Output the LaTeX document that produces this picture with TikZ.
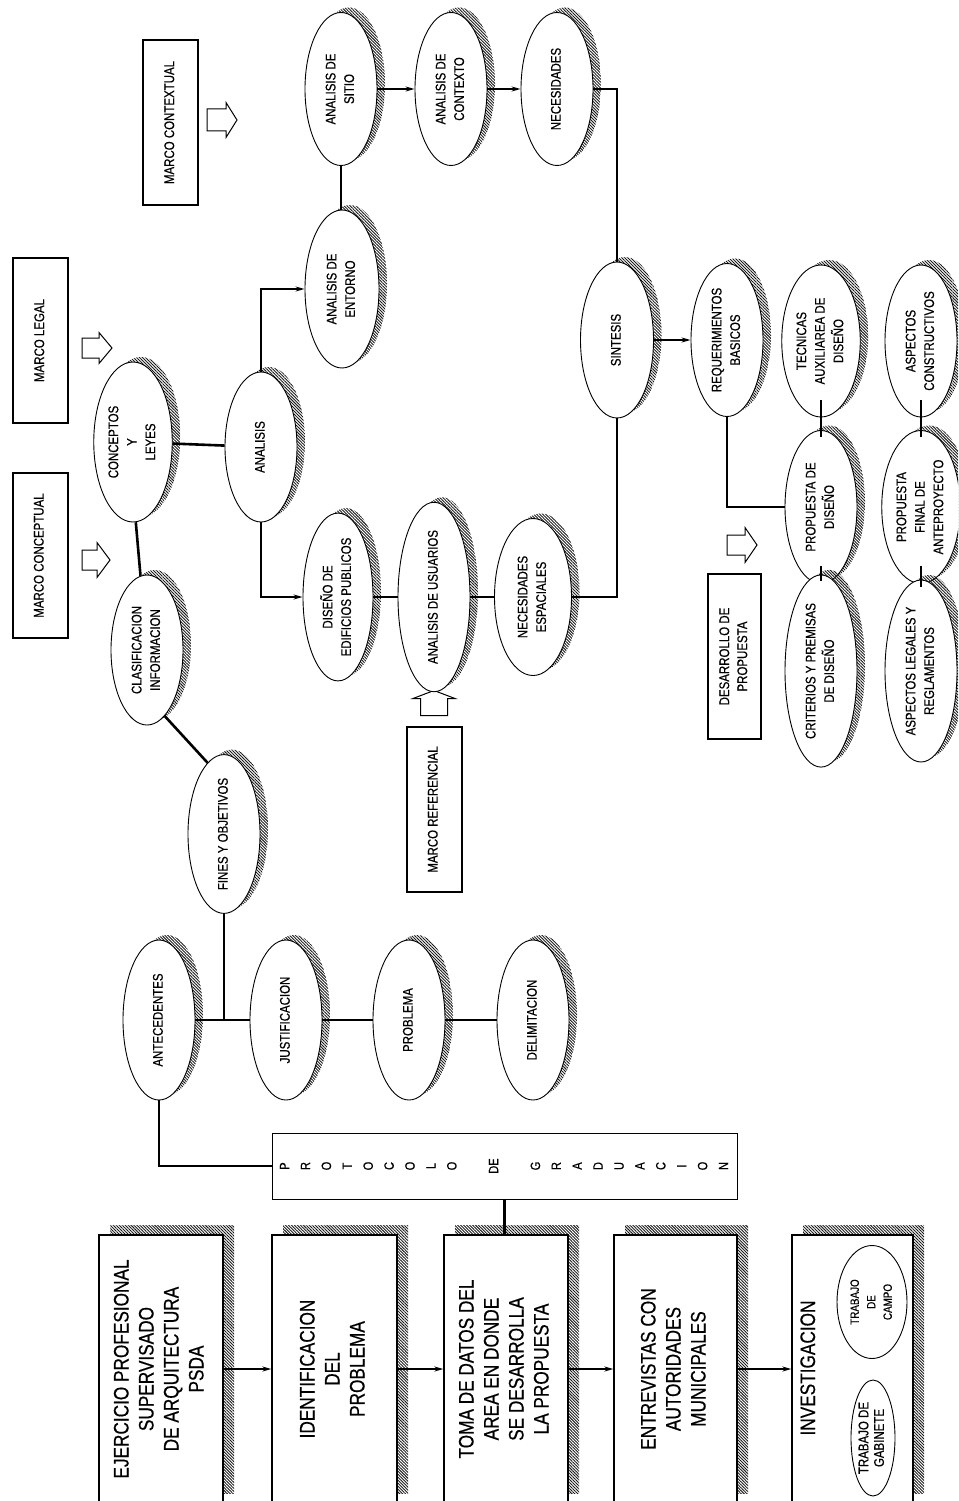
\documentclass[tikz,border=0pt]{standalone}
\usepackage{fontspec}
\setmainfont{Liberation Sans}[FakeStretch=0.82,FakeBold=0.5]
\usepackage{graphicx}
\usetikzlibrary{arrows.meta,patterns.meta,shapes.geometric,calc}
\newcommand\rt[1]{\rotatebox{90}{\begin{tabular}{@{}c@{}}#1\end{tabular}}}
\newcommand\blockarrow[7]{\draw[blockarr, shift={(#1,#2)}, rotate=#3]
  (-#4,-#5) -- (#4-#7,-#5) -- (#4-#7,-#6) -- (#4,0) -- (#4-#7,#6) -- (#4-#7,#5) -- (-#4,#5) -- cycle;}
\tikzset{
  hatch/.style={pattern={Lines[angle=-45,distance=2.1pt,line width=0.9pt]},pattern color=black!90},
  ell/.style={ellipse, draw, line width=0.9pt, fill=white,
     preaction={hatch, transform canvas={xshift=8pt,yshift=5pt}},
     inner sep=0pt, minimum width=72pt, minimum height=153pt,
     font=\fontsize{14}{18.5}\selectfont},
  smallell/.style={ellipse, draw, line width=0.9pt, fill=white, inner sep=0pt},
  bigbox/.style={rectangle, draw, line width=1.3pt, fill=white,
     preaction={hatch, transform canvas={xshift=11pt,yshift=10pt}},
     inner sep=0pt, minimum height=268pt, font=\fontsize{21}{25}\selectfont},
  marco/.style={rectangle, draw, line width=2pt, fill=white, inner sep=0pt,
     minimum width=55pt, minimum height=165pt, font=\fontsize{14}{18}\selectfont},
  conn/.style={line width=2.6pt},
  thinconn/.style={line width=1.6pt},
  arrowed/.style={-{Stealth[length=9pt,width=5pt]}},
  blockarr/.style={draw, line width=1pt},
}
\begin{document}
\begin{tikzpicture}[x=1pt,y=-1pt]
\useasboundingbox (0,0) rectangle (958,1501);
\clip (0,0) rectangle (958,1501);

% marco boxes
\node[marco] (mcontextual) at (170.5,122.5) {\rt{MARCO CONTEXTUAL}};
\node[marco] (mlegal) at (40.5,340.5) {\rt{MARCO LEGAL}};
\node[marco] (mconceptual) at (40,555.5) {\rt{MARCO CONCEPTUAL}};
\node[marco] (mreferencial) at (434,809.5) {\rt{MARCO REFERENCIAL}};
\node[marco, minimum width=53pt] (desarrollo) at (734.5,656.5) {\rt{DESARROLLO DE\\PROPUESTA}};

% block arrows
\blockarrow{222}{120}{0}{15}{11}{17.5}{11}
\blockarrow{97}{348}{0}{15}{10}{15.5}{13}
\blockarrow{96}{560}{0}{14}{10}{17.5}{13}
\blockarrow{742}{545}{0}{15}{10}{17.5}{12}
\blockarrow{434}{703}{90}{12.5}{13.5}{21}{8}

% ellipses
\node[ell] (sitio) at (341,89) {\rt{ANALISIS DE\\SITIO}};
\node[ell] (contexto) at (451,89) {\rt{ANALISIS DE\\CONTEXTO}};
\node[ell] (necesidades) at (557,89) {\rt{NECESIDADES}};
\node[ell, minimum height=158pt, minimum width=74pt] (entorno) at (342,289) {\rt{ANALISIS DE\\ENTORNO}};
\node[ell, minimum height=160pt, minimum width=70pt] (conceptos) at (133,442) {\rt{CONCEPTOS\\Y\\LEYES}};
\node[ell, minimum height=150pt] (analisis) at (261,447) {\rt{ANALISIS}};
\node[ell, minimum height=150pt] (clasif) at (147,650) {\rt{CLASIFICACION\\INFORMACION}};
\node[ell] (fines) at (224,834) {\rt{FINES Y OBJETIVOS}};
\node[ell, minimum width=70pt, minimum height=155pt] (diseno) at (338,597) {\rt{DISEÑO DE\\EDIFICIOS PUBLICOS}};
\node[ell] (usuarios) at (434,597) {\rt{ANALISIS DE USUARIOS}};
\node[ell, minimum width=77pt, minimum height=157pt] (necesp) at (533,597) {\rt{NECESIDADES\\ESPACIALES}};
\node[ell, minimum width=73pt, minimum height=156pt] (sintesis) at (617,340) {\rt{SINTESIS}};
\node[ell] (requer) at (727,340) {\rt{REQUERIMIENTOS\\BASICOS}};
\node[ell, minimum height=152pt] (tecnicas) at (821,341) {\rt{TECNICAS\\AUXILIAREA DE\\DISEÑO}};
\node[ell] (propuesta) at (821,507) {\rt{PROPUESTA DE\\DISEÑO}};
\node[ell] (criterios) at (821,671) {\rt{CRITERIOS Y PREMISAS\\DE DISEÑO}};
\node[ell, minimum height=152pt] (aspcons) at (921,341) {\rt{ASPECTOS\\CONSTRUCTIVOS}};
\node[ell] (propfinal) at (921,507) {\rt{PROPUESTA\\FINAL DE\\ANTEPROYECTO}};
\node[ell] (asplegal) at (921,671) {\rt{ASPECTOS LEGALES Y\\REGLAMENTOS}};
\node[ell, minimum height=160pt] (antecedentes) at (159,1020) {\rt{ANTECEDENTES}};
\node[ell, minimum height=160pt] (justificacion) at (286,1020) {\rt{JUSTIFICACION}};
\node[ell, minimum height=160pt] (problema) at (409,1020) {\rt{PROBLEMA}};
\node[ell, minimum height=160pt] (delimitacion) at (533,1020) {\rt{DELIMITACION}};

% protocol box
\node[draw, line width=1pt, inner sep=0pt, minimum width=465pt, minimum height=66pt,
  font=\fontsize{13.5}{20.9}\selectfont] (proto) at (504.5,1166)
  {\rt{P\\R\\O\\T\\O\\C\\O\\L\\O\\ \\DE\\ \\G\\R\\A\\D\\U\\A\\C\\I\\O\\N}};

% big boxes
\node[bigbox, minimum width=124pt] (b1) at (161,1369) {\rt{EJERCICIO PROFESIONAL\\SUPERVISADO\\DE ARQUITECTURA\\PSDA}};
\node[bigbox, minimum width=125pt] (b2) at (334.5,1369) {\rt{IDENTIFICACION\\DEL\\PROBLEMA}};
\node[bigbox, minimum width=124pt] (b3) at (506,1369) {\rt{TOMA DE DATOS DEL\\AREA EN DONDE\\SE DESARROLLA\\LA PROPUESTA}};
\node[bigbox, minimum width=123pt] (b4) at (675.5,1369) {\rt{ENTREVISTAS CON\\AUTORIDADES\\MUNICIPALES}};
\node[bigbox, minimum width=121pt] (b5) at (852.5,1369) {};
\node[font=\fontsize{21}{25}\selectfont, inner sep=0pt] (invtxt) at (810,1368) {\rt{INVESTIGACION}};
\node[smallell, minimum width=65pt, minimum height=113pt, font=\fontsize{12}{16.5}\selectfont] (campo) at (872,1302) {\rt{TRABAJO\\DE\\CAMPO}};
\node[smallell, minimum width=44pt, minimum height=116pt, font=\fontsize{14}{15.5}\selectfont] (gabinete) at (873,1438) {\rt{TRABAJO DE\\GABINETE}};

% connectors
\draw[conn] (conceptos) -- (analisis);
\draw[conn] (conceptos.-88) -- (clasif.95);
\draw[conn] (clasif.-75) -- (fines.103);
\draw[conn] (fines.south) -- (fines.south |- antecedentes.center);
\draw[conn] (antecedentes) -- (justificacion);
\draw[conn] (justificacion) -- (problema);
\draw[conn] (problema) -- (delimitacion);
\draw[conn] (antecedentes.south) |- (proto.west);
\draw[conn] (proto.south) -- (proto.south |- b3.north);
\draw[thinconn, arrowed] (b1) -- (b2);
\draw[thinconn, arrowed] (b2) -- (b3);
\draw[thinconn, arrowed] (b3) -- (b4);
\draw[thinconn, arrowed] (b4) -- (b5);

\draw[conn, arrowed] (analisis.north) |- (entorno.west);
\draw[conn, arrowed] (analisis.south) |- (diseno.west);
\draw[conn] (sitio.south) -- (sitio.south |- entorno.north);
\draw[conn, arrowed] (sitio) -- (contexto);
\draw[conn, arrowed] (contexto) -- (necesidades);
\draw[conn] (necesidades.east) -| (sintesis.north);
\draw[conn] (diseno) -- (usuarios);
\draw[conn] (usuarios) -- (necesp);
\draw[conn] (necesp.east) -| (sintesis.south);
\draw[conn, arrowed] (sintesis) -- (requer);
\draw[conn] (requer.south) |- (propuesta.west);
\draw[conn] ([yshift=17pt]tecnicas.south) -- ([yshift=-7pt]propuesta.north);
\draw[conn] ([yshift=18pt]propuesta.south) -- ([yshift=-7pt]criterios.north);
\draw[conn] ([yshift=17pt]aspcons.south) -- ([yshift=-7pt]propfinal.north);
\draw[conn] ([yshift=18pt]propfinal.south) -- ([yshift=-7pt]asplegal.north);
\end{tikzpicture}
\end{document}
